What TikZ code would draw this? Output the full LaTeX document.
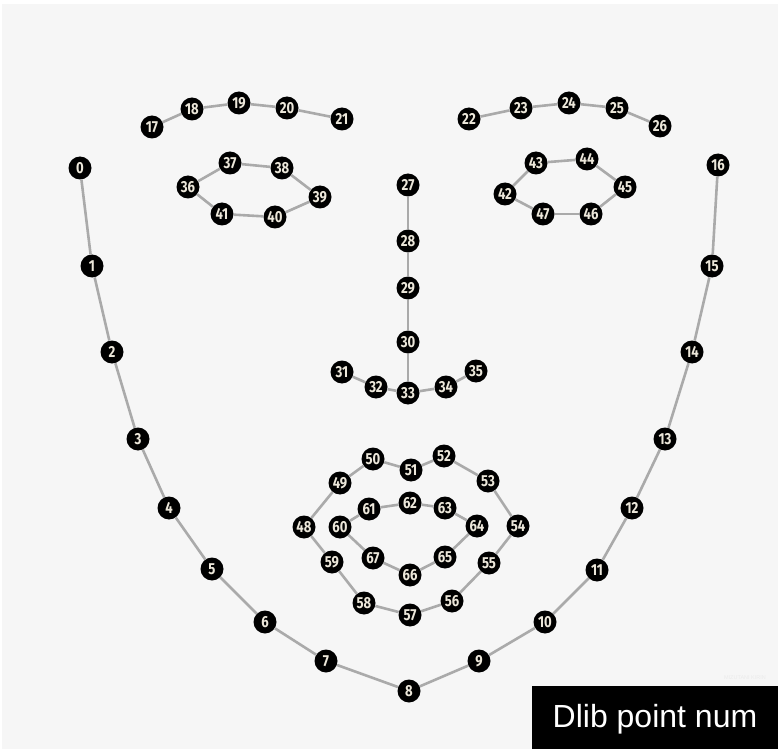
\documentclass[tikz,border=0pt]{standalone}
\usepackage{fontspec}
\setmainfont{Liberation Sans}
\newfontfamily\numfont[FakeStretch=0.82]{Fira Sans}
\definecolor{bgc}{RGB}{246,246,246}
\definecolor{edgec}{RGB}{170,170,170}
\definecolor{numc}{RGB}{236,231,218}
\tikzset{
  pt/.style={circle, fill=black, minimum size=23pt, inner sep=0pt,
    text=numc, font=\numfont\bfseries\fontsize{16}{16}\selectfont},
  edge/.style={draw=edgec, line width=2.6pt},
}
\begin{document}
\begin{tikzpicture}[x=1pt,y=-1pt]
\useasboundingbox (0,0) rectangle (780,749);
\fill[white] (0,0) rectangle (780,749);
\fill[bgc] (2,4) rectangle (778,749);
\foreach \i/\x/\y in {
 0/80/168, 1/92/266, 2/112/352, 3/138/439, 4/169/508, 5/212/569, 6/265/622, 7/326/661, 8/409/691,
 9/479/661, 10/545/622, 11/597/570, 12/632/508, 13/665/439, 14/692/352, 15/712/266, 16/718/165,
 17/152/127, 18/192/109, 19/239/103, 20/287/108, 21/342/119,
 22/469/119, 23/521/108, 24/569/103, 25/617/108, 26/660/126,
 27/408/185, 28/408/241, 29/408/288, 30/408/342,
 31/342/372, 32/376/387, 33/408/393, 34/446/387, 35/476/371,
 36/188/187, 37/230/163, 38/282/168, 39/320/197, 40/275/217, 41/222/214,
 42/505/194, 43/536/163, 44/587/159, 45/625/187, 46/591/214, 47/543/214,
 48/304/527, 49/340/483, 50/373/459, 51/411/470, 52/444/456, 53/488/481,
 54/518/526, 55/489/563, 56/452/601, 57/410/615, 58/364/603, 59/332/562,
 60/340/527, 61/369/509, 62/410/503, 63/445/508, 64/477/526, 65/445/557,
 66/410/575, 67/373/558}
 { \node[pt] (p\i) at (\x,\y) {\i}; }
% chains
\foreach \s/\e in {0/16, 17/21, 22/26, 27/30, 31/35, 36/41, 42/47, 48/59, 60/67} {
  \pgfmathtruncatemacro\last{\e-1}
  \foreach \a in {\s,...,\last} {
    \pgfmathtruncatemacro\b{\a+1}
    \draw[edge] (p\a) -- (p\b);
  }
}
% closures and joins
\foreach \a/\b in {30/33, 41/36, 47/42, 59/48, 67/60}
  \draw[edge] (p\a) -- (p\b);
\node[fill=black, anchor=north west, minimum width=246pt, minimum height=63pt, inner sep=0pt] (box) at (532,686) {};
\node[text=white, anchor=base, font=\fontsize{32}{32}\selectfont, inner sep=0pt] (title) at (655,727) {Dlib point num};
\node[text=black!8, font=\fontsize{5.5}{5.5}\selectfont, inner sep=0pt] (wm) at (745,678) {MIZUTANI KIRIN};
\end{tikzpicture}
\end{document}
